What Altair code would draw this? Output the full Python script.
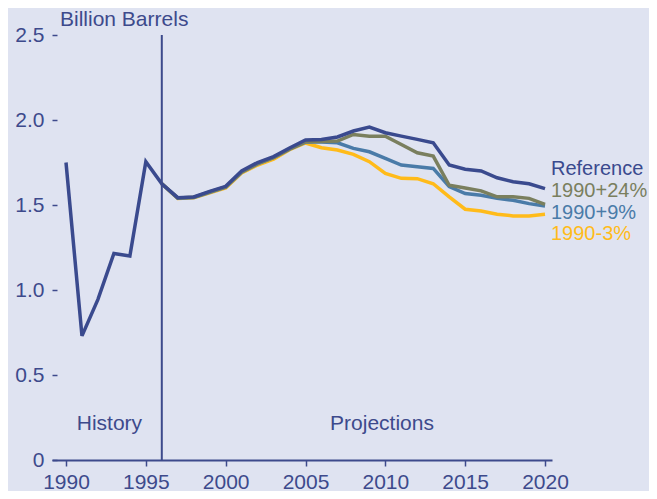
import altair as alt
import pandas as pd

# ---- data ----
hist_years = [1990, 1991, 1992, 1993, 1994, 1995, 1996]
hist_ref = [1.75, 0.73, 0.945, 1.215, 1.20, 1.755, 1.625]

proj_years = list(range(1996, 2021))
proj_ref = [1.625, 1.543, 1.547, 1.58, 1.61, 1.70, 1.75, 1.785, 1.835, 1.883, 1.886, 1.90,
            1.935, 1.958, 1.925, 1.905, 1.886, 1.866, 1.735, 1.71, 1.70, 1.66, 1.637, 1.625, 1.596]
proj_p24 = [1.625, 1.541, 1.545, 1.577, 1.606, 1.695, 1.745, 1.78, 1.83, 1.873, 1.874, 1.876,
            1.915, 1.905, 1.905, 1.856, 1.807, 1.788, 1.616, 1.60, 1.583, 1.548, 1.548, 1.539, 1.504]
proj_p9 = [1.625, 1.540, 1.544, 1.575, 1.604, 1.693, 1.742, 1.778, 1.828, 1.87, 1.87, 1.866,
           1.833, 1.813, 1.774, 1.735, 1.725, 1.715, 1.608, 1.567, 1.557, 1.539, 1.528, 1.508, 1.494]
proj_m3 = [1.625, 1.538, 1.542, 1.572, 1.60, 1.688, 1.735, 1.77, 1.825, 1.865, 1.837, 1.823,
           1.798, 1.755, 1.686, 1.657, 1.655, 1.625, 1.548, 1.475, 1.465, 1.446, 1.436, 1.436, 1.446]

series_names = ["Reference", "1990+24%", "1990+9%", "1990-3%"]
series_colors = ["#3a4a8e", "#7a7f5e", "#4a7ba8", "#ffbb1a"]

x_ticks = [1990, 1995, 2000, 2005, 2010, 2015, 2020]
y_ticks = [0, 0.5, 1.0, 1.5, 2.0, 2.5]

divider_year = 1996
period_labels = ["History", "Projections"]
period_x = [1992.72, 2009.79]
period_y = [0.21, 0.21]

# ---- tables ----
rows = []
for yr, v in zip(hist_years, hist_ref):
    rows.append({"year": yr, "value": v, "series": "Reference"})
for yr, v in zip(proj_years[1:], proj_ref[1:]):
    rows.append({"year": yr, "value": v, "series": "Reference"})
for name, vals in zip(series_names[1:], [proj_p24, proj_p9, proj_m3]):
    for yr, v in zip(proj_years, vals):
        rows.append({"year": yr, "value": v, "series": name})
df = pd.DataFrame(rows)

navy = "#3d4a8c"
FONT = "Liberation Sans"

x_enc = alt.X("year:Q",
              scale=alt.Scale(domain=[1989.123, 2020.438], nice=False, zero=False),
              axis=alt.Axis(values=x_ticks, format="d", title=None, grid=False,
                            labelFontSize=21, labelColor=navy, labelFont=FONT,
                            tickSize=6, tickWidth=1.5, tickColor=navy,
                            domainColor=navy, domainWidth=2, labelPadding=5))
y_enc = alt.Y("value:Q",
              scale=alt.Scale(domain=[0, 2.5], nice=False),
              axis=alt.Axis(values=y_ticks, title=None, grid=False, domain=False,
                            labelExpr="datum.value == 0 ? '0' : format(datum.value, '.1f')",
                            labelFontSize=21, labelColor=navy, labelFont=FONT,
                            tickSize=5, tickWidth=1.5, tickColor=navy, offset=-5,
                            labelPadding=8))

base = alt.Chart(df)
layers = []
for name in reversed(series_names):
    layers.append(
        base.transform_filter(alt.datum.series == name)
        .mark_line(strokeWidth=3.5, color=series_colors[series_names.index(name)])
        .encode(x=x_enc, y=y_enc)
    )

rule_df = pd.DataFrame({"year": [divider_year], "y0": [0.0], "y1": [2.5]})
rule = alt.Chart(rule_df).mark_rule(color=navy, strokeWidth=2).encode(
    x=alt.X("year:Q"), y=alt.Y("y0:Q"), y2="y1:Q")

period_df = pd.DataFrame({"label": period_labels, "year": period_x, "value": period_y})
period_text = alt.Chart(period_df).mark_text(
    fontSize=21, font=FONT, color=navy, align="center", baseline="middle"
).encode(x=alt.X("year:Q"), y=alt.Y("value:Q"), text="label:N")

title_text = alt.Chart(pd.DataFrame({"t": ["Billion Barrels"]})).mark_text(
    fontSize=21, font=FONT, color=navy, align="left", baseline="middle"
).encode(x=alt.value(8), y=alt.value(-15), text="t:N")

label_y = [134, 156, 178, 199]
label_layers = []
for name, col, yy in zip(series_names, series_colors, label_y):
    label_layers.append(
        alt.Chart(pd.DataFrame({"t": [name]})).mark_text(
            fontSize=20, font=FONT, color=col, align="left", baseline="middle"
        ).encode(x=alt.value(499), y=alt.value(yy), text="t:N")
    )

chart = alt.layer(*layers, rule, period_text, title_text, *label_layers).properties(
    width=500, height=425,
    autosize=alt.AutoSizeParams(type="none"),
    padding={"left": 44, "top": 27, "right": 97, "bottom": 31},
    background="#dfe3f1",
).configure_view(stroke=None, fill="#dfe3f1")

chart.save("out.html", embed_options={"renderer": "svg", "actions": False})
